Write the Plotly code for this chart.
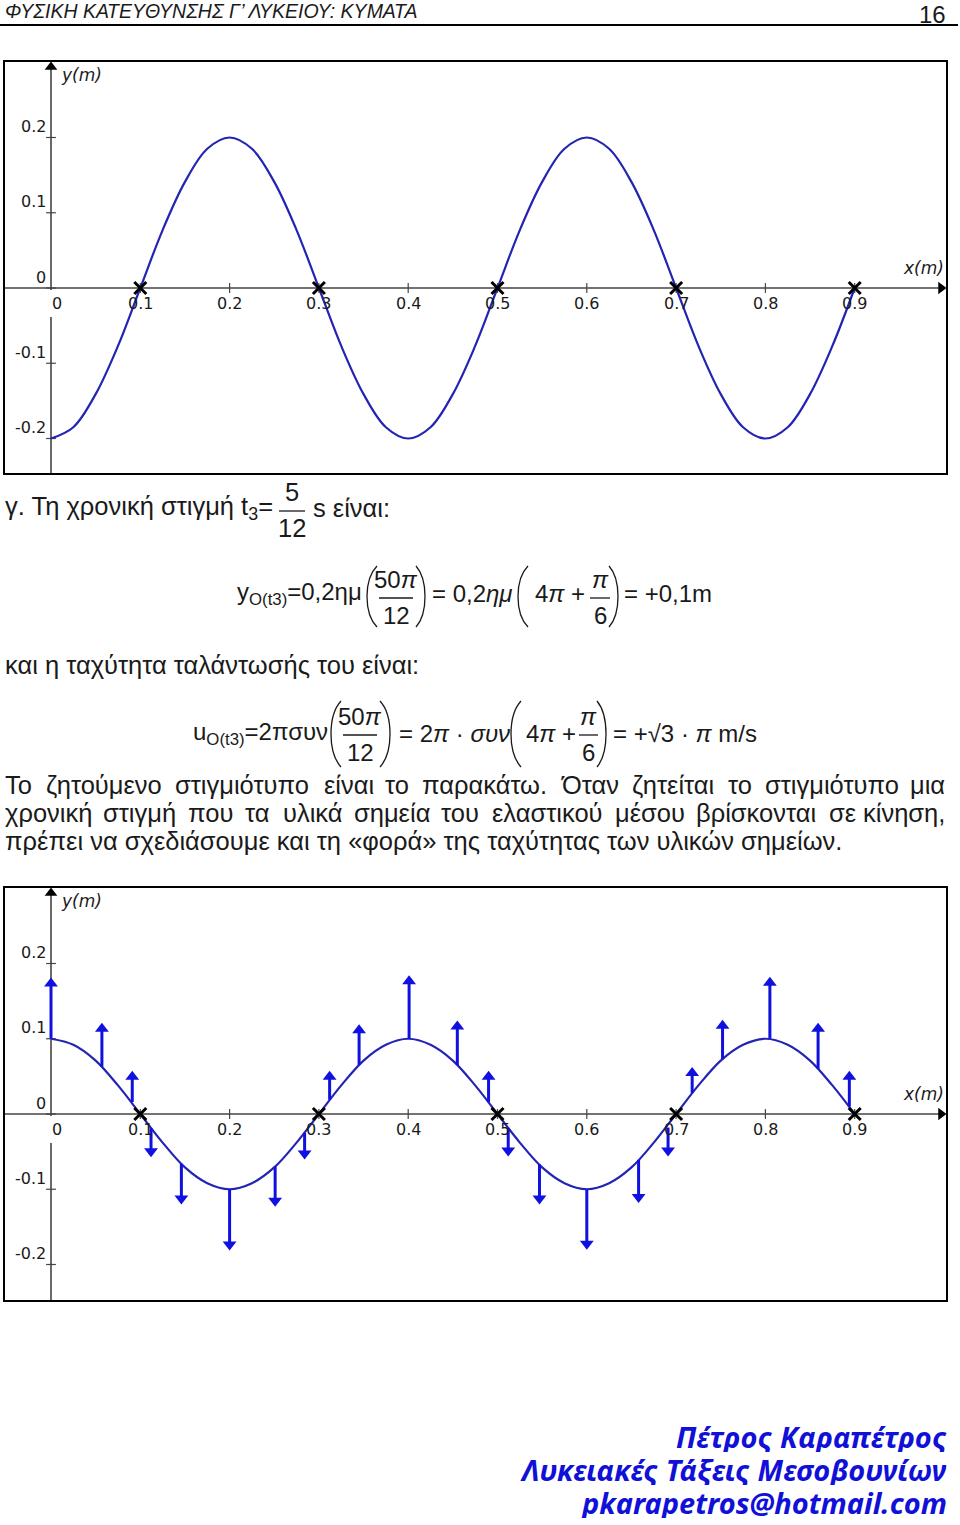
import plotly.graph_objects as go

# ---------------- data ----------------
x_ticks = [0, 0.1, 0.2, 0.3, 0.4, 0.5, 0.6, 0.7, 0.8, 0.9]
x_tick_labels = ["0", "0.1", "0.2", "0.3", "0.4", "0.5", "0.6", "0.7", "0.8", "0.9"]
y_ticks = [0.2, 0.1, 0, -0.1, -0.2]
y_tick_labels = ["0.2", "0.1", "0", "-0.1", "-0.2"]

wave_x = [0, 0.025, 0.05, 0.075, 0.1, 0.125, 0.15, 0.175, 0.2, 0.225, 0.25, 0.275,
          0.3, 0.325, 0.35, 0.375, 0.4, 0.425, 0.45, 0.475, 0.5, 0.525, 0.55, 0.575,
          0.6, 0.625, 0.65, 0.675, 0.7, 0.725, 0.75, 0.775, 0.8, 0.825, 0.85, 0.875, 0.9]
wave1_y = [-0.2, -0.185, -0.141, -0.077, 0, 0.077, 0.141, 0.185, 0.2, 0.185, 0.141, 0.077,
           0, -0.077, -0.141, -0.185, -0.2, -0.185, -0.141, -0.077, 0, 0.077, 0.141, 0.185,
           0.2, 0.185, 0.141, 0.077, 0, -0.077, -0.141, -0.185, -0.2, -0.185, -0.141, -0.077, 0]
wave2_y = [0.1, 0.092, 0.071, 0.038, 0, -0.038, -0.071, -0.092, -0.1, -0.092, -0.071, -0.038,
           0, 0.038, 0.071, 0.092, 0.1, 0.092, 0.071, 0.038, 0, -0.038, -0.071, -0.092,
           -0.1, -0.092, -0.071, -0.038, 0, 0.038, 0.071, 0.092, 0.1, 0.092, 0.071, 0.038, 0]
node_x = [0.1, 0.3, 0.5, 0.7, 0.9]
node_y = [0, 0, 0, 0, 0]

arrow_x = [0.0, 0.057, 0.091, 0.112, 0.146, 0.200, 0.251, 0.284, 0.312, 0.345, 0.401, 0.455,
           0.490, 0.512, 0.547, 0.600, 0.658, 0.691, 0.718, 0.752, 0.805, 0.859, 0.894]
arrow_base = [0.100, 0.063, 0.016, -0.019, -0.066, -0.100, -0.070, -0.025, 0.019, 0.065, 0.100, 0.065,
              0.016, -0.019, -0.067, -0.100, -0.061, -0.018, 0.028, 0.073, 0.100, 0.060, 0.010]
arrow_tip = [0.180, 0.120, 0.056, -0.056, -0.119, -0.180, -0.122, -0.059, 0.056, 0.118, 0.183, 0.123,
             0.056, -0.055, -0.119, -0.179, -0.117, -0.055, 0.061, 0.124, 0.181, 0.120, 0.056]

# ---------------- page geometry (pixels) ----------------
W, H = 960, 1525
def fx(p): return p / W
def fy(p): return 1 - p / H

X0_PX = 51.0
X_SCALE = 893.0
Y_SCALE = 752.5
LEFT, RIGHT = 4, 947
frames = [dict(top=61, bottom=474, zero=288), dict(top=887, bottom=1301, zero=1114)]

CURVE = "#2424b4"
ARROW = "#1010e0"
AXIS = "#444444"
TXT = "#1a1a1a"
BODY = "Liberation Sans, Arial, sans-serif"
TICKF = "DejaVu Sans"

fig = go.Figure()
shapes = []
annotations = []
layout_axes = {}

for i, fr in enumerate(frames):
    n = "" if i == 0 else "2"
    xref, yref = "x" + n, "y" + n
    xr = [(LEFT - X0_PX) / X_SCALE, (RIGHT - X0_PX) / X_SCALE]
    yr = [(fr["zero"] - fr["bottom"]) / Y_SCALE, (fr["zero"] - fr["top"]) / Y_SCALE]
    layout_axes["xaxis" + n] = dict(domain=[fx(LEFT), fx(RIGHT)], range=xr, visible=False,
                                    anchor=yref, fixedrange=True)
    layout_axes["yaxis" + n] = dict(domain=[fy(fr["bottom"]), fy(fr["top"])], range=yr,
                                    visible=False, anchor=xref, fixedrange=True)
    px = 1.0 / X_SCALE
    py = 1.0 / Y_SCALE

    # frame
    shapes.append(dict(type="rect", xref="paper", yref="paper", x0=fx(LEFT), x1=fx(RIGHT),
                       y0=fy(fr["bottom"]), y1=fy(fr["top"]), line=dict(color="black", width=2)))
    # x axis
    x_tip = (946 - X0_PX) / X_SCALE
    shapes.append(dict(type="line", xref=xref, yref=yref, x0=xr[0], x1=x_tip - 6 * px, y0=0, y1=0,
                       line=dict(color=AXIS, width=1.6), layer="below"))
    # y axis (with gap under the "0" label)
    y_tip = yr[1] - 1 * py
    shapes.append(dict(type="line", xref=xref, yref=yref, x0=0, x1=0, y0=-2 * py, y1=y_tip - 6 * py,
                       line=dict(color=AXIS, width=1.6), layer="below"))
    shapes.append(dict(type="line", xref=xref, yref=yref, x0=0, x1=0, y0=yr[0], y1=-29 * py,
                       line=dict(color=AXIS, width=1.6), layer="below"))
    # arrow heads of axes
    fig.add_trace(go.Scatter(x=[x_tip - 5 * px, 0], y=[0, y_tip - 5 * py], mode="markers",
                             xaxis=xref, yaxis=yref, hoverinfo="skip", showlegend=False,
                             marker=dict(symbol=["triangle-right", "triangle-up"], size=11,
                                         color="black")))
    # tick marks
    fig.add_trace(go.Scatter(x=x_ticks[1:], y=[0] * (len(x_ticks) - 1), mode="markers",
                             xaxis=xref, yaxis=yref, hoverinfo="skip", showlegend=False,
                             marker=dict(symbol="line-ns", size=7, line=dict(color=AXIS, width=1.2))))
    fig.add_trace(go.Scatter(x=[0] * len(y_ticks), y=y_ticks, mode="markers",
                             xaxis=xref, yaxis=yref, hoverinfo="skip", showlegend=False,
                             marker=dict(symbol="line-ew", size=7, line=dict(color=AXIS, width=1.2))))
    # tick labels
    for t, lab in zip(x_ticks, x_tick_labels):
        annotations.append(dict(xref=xref, yref=yref, x=t, y=0, text=lab, showarrow=False,
                                xanchor="center", yanchor="middle", yshift=-15,
                                xshift=6 if t == 0 else 0,
                                font=dict(family=TICKF, size=16, color=TXT)))
    for t, lab in zip(y_ticks, y_tick_labels):
        annotations.append(dict(xref=xref, yref=yref, x=0, y=t, text=lab, showarrow=False,
                                xanchor="right", yanchor="middle", yshift=11, xshift=-3,
                                font=dict(family=TICKF, size=16, color=TXT)))
    # axis titles
    annotations.append(dict(xref="paper", yref="paper", x=fx(59), y=fy(fr["top"] + 14),
                            text="<i>y(m)</i>", showarrow=False, xanchor="left", yanchor="middle",
                            font=dict(family=TICKF, size=17, color=TXT)))
    annotations.append(dict(xref="paper", yref="paper", x=fx(946), y=fy(fr["zero"] - 20),
                            text="<i>x(m)</i>", showarrow=False, xanchor="right", yanchor="middle",
                            font=dict(family=TICKF, size=17, color=TXT)))

    # wave
    wy = wave1_y if i == 0 else wave2_y
    fig.add_trace(go.Scatter(x=wave_x, y=wy, mode="lines", xaxis=xref, yaxis=yref,
                             line=dict(color=CURVE, width=2.2, shape="spline", smoothing=1),
                             hoverinfo="skip", showlegend=False))

    if i == 1:
        sx, sy, hx, hy, hs = [], [], [], [], []
        for ax_, b, t in zip(arrow_x, arrow_base, arrow_tip):
            s = 1 if t > b else -1
            hc = t - s * 5 * py
            sx += [ax_, ax_, None]
            sy += [b, hc, None]
            hx.append(ax_)
            hy.append(hc)
            hs.append("triangle-up" if s > 0 else "triangle-down")
        fig.add_trace(go.Scatter(x=sx, y=sy, mode="lines", xaxis=xref, yaxis=yref,
                                 line=dict(color=ARROW, width=3), hoverinfo="skip", showlegend=False))
        fig.add_trace(go.Scatter(x=hx, y=hy, mode="markers", xaxis=xref, yaxis=yref,
                                 marker=dict(symbol=hs, size=12, color=ARROW),
                                 hoverinfo="skip", showlegend=False))

    # node crosses
    fig.add_trace(go.Scatter(x=node_x, y=node_y, mode="markers", xaxis=xref, yaxis=yref,
                             marker=dict(symbol="x-thin", size=12, line=dict(color="black", width=3)),
                             hoverinfo="skip", showlegend=False))

# ---------------- page text ----------------
def txt(x, y, s, size=24, anchor="left", family=BODY, color=TXT, **kw):
    annotations.append(dict(xref="paper", yref="paper", x=fx(x), y=fy(y), text=s, showarrow=False,
                            xanchor=anchor, yanchor="middle",
                            font=dict(family=family, size=size, color=color), **kw))

def hline(x0, x1, y, w=1.3, color=TXT):
    shapes.append(dict(type="line", xref="paper", yref="paper", x0=fx(x0), x1=fx(x1),
                       y0=fy(y), y1=fy(y), line=dict(color=color, width=w)))

def paren(x_end, x_mid, y0, y1, w=1.3):
    xc = (x_mid - 0.25 * x_end) / 0.75
    h = y1 - y0
    path = "M {a},{b} C {c},{d} {c},{e} {a},{f}".format(
        a=fx(x_end), b=fy(y0), c=fx(xc), d=fy(y0 + 0.22 * h), e=fy(y1 - 0.22 * h), f=fy(y1))
    shapes.append(dict(type="path", xref="paper", yref="paper", path=path,
                       line=dict(color=TXT, width=w)))

# approximate advance widths (em) of Liberation Sans, used to justify lines
CW = {"α": .578, "ά": .578, "β": .575, "γ": .5, "δ": .557, "ε": .446, "έ": .446, "ζ": .441,
      "η": .556, "ή": .556, "θ": .556, "ι": .222, "ί": .222, "κ": .5, "λ": .5, "μ": .577,
      "ν": .5, "ξ": .448, "ο": .556, "ό": .556, "π": .687, "ρ": .574, "σ": .618, "ς": .473,
      "τ": .446, "υ": .551, "ύ": .551, "φ": .711, "χ": .5, "ψ": .728, "ω": .79, "ώ": .79,
      "Τ": .611, "Ό": .80, ".": .278, ",": .278, "«": .556, "»": .556}

def justify(line, y, size, fudge=1.0, x0=3, x1=947):
    words = line.split(" ")
    widths = [sum(CW.get(c, .556) for c in w) * size * fudge for w in words]
    gap = (x1 - x0 - sum(widths)) / (len(words) - 1)
    x = x0
    for k, (w, wd) in enumerate(zip(words, widths)):
        if k == len(words) - 1:
            txt(x1, y, w, size=size, anchor="right")
        else:
            txt(x, y, w, size=size)
        x += wd + gap

# header
HEAD = "Liberation Sans Narrow, Liberation Sans, sans-serif"
txt(3, 11, "<i>ΦΥΣΙΚΗ ΚΑΤΕΥΘΥΝΣΗΣ Γ’ ΛΥΚΕΙΟΥ: ΚΥΜΑΤΑ</i>", size=19.5, family=HEAD)
txt(948, 14, "16", size=24, anchor="right", family=HEAD)
hline(0, 958, 25, w=2, color="black")

BS = 25.5
# γ. line
txt(3, 508, "γ. Τη χρονική στιγμή t<sub>3</sub>=", size=BS)
txt(292, 492, "5", size=BS, anchor="center")
hline(279, 305, 511)
txt(292, 528, "12", size=BS, anchor="center")
txt(311, 508, "s είναι:", size=BS)

# equation 1
EQ = 24
txt(364, 594, "y<sub>O(t3)</sub>=0,2ημ", size=EQ, anchor="right")
paren(377, 367, 566, 627)
txt(396, 579, "50<i>π</i>", size=EQ, anchor="center")
hline(379, 413, 598)
txt(396, 615, "12", size=EQ, anchor="center")
paren(416, 425, 566, 627)
txt(430, 594, "= 0,2<i>ημ</i>", size=EQ)
paren(528, 518, 566, 627)
txt(533, 594, "4<i>π</i> +", size=EQ)
txt(600, 579, "<i>π</i>", size=EQ, anchor="center")
hline(590, 610, 598)
txt(600, 615, "6", size=EQ, anchor="center")
paren(609, 618, 566, 627)
txt(622, 594, "= +0,1m", size=EQ)

txt(3, 665, "και η ταχύτητα ταλάντωσής του είναι:", size=BS)

# equation 2
txt(330, 733, "u<sub>O(t3)</sub>=2πσυν", size=EQ, anchor="right")
paren(341, 331, 701, 767)
txt(360, 716, "50<i>π</i>", size=EQ, anchor="center")
hline(343, 377, 735)
txt(360, 752, "12", size=EQ, anchor="center")
paren(380, 390, 701, 767)
txt(397, 733, "= 2<i>π</i> · <i>συν</i>", size=EQ)
paren(521, 511, 701, 767)
txt(524, 733, "4<i>π</i> +", size=EQ)
txt(588, 716, "<i>π</i>", size=EQ, anchor="center")
hline(579, 598, 735)
txt(588, 752, "6", size=EQ, anchor="center")
paren(597, 606, 701, 767)
txt(611, 733, "= +√3 · <i>π</i> m/s", size=EQ)

# paragraph (first two lines justified like the page)
justify("Το ζητούμενο στιγμιότυπο είναι το παρακάτω. Όταν ζητείται το στιγμιότυπο μια", 785, BS, 1.005)
justify("χρονική στιγμή που τα υλικά σημεία του ελαστικού μέσου βρίσκονται σε κίνηση,", 813, BS, 0.99)
txt(3, 841, "πρέπει να σχεδιάσουμε και τη «φορά» της ταχύτητας των υλικών σημείων.", size=BS)

# footer
FOOT = "Noto Sans, DejaVu Sans, sans-serif"
BLUE = "#1010d8"
txt(949, 1436, "<b><i>Πέτρος Καραπέτρος</i></b>", size=29, anchor="right", family=FOOT, color=BLUE, height=31)
txt(949, 1469, "<b><i>Λυκειακές Τάξεις Μεσοβουνίων</i></b>", size=29, anchor="right", family=FOOT, color=BLUE, height=31)
txt(949, 1502, "<b><i>pkarapetros@hotmail.com</i></b>", size=29, anchor="right", family=FOOT, color=BLUE, height=31)

fig.update_layout(
    width=W, height=H, margin=dict(l=0, r=0, t=0, b=0),
    paper_bgcolor="white", plot_bgcolor="white",
    showlegend=False, shapes=shapes, annotations=annotations,
    **layout_axes,
)

fig.write_html("out.html", config={"displayModeBar": False})
